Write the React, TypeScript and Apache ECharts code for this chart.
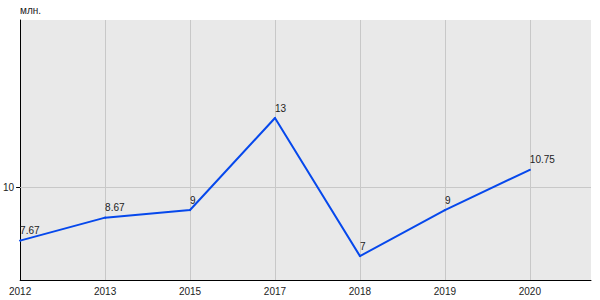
import React, { useEffect, useRef } from "react";
import * as echarts from "echarts";

const years = ["2012", "2013", "2015", "2017", "2018", "2019", "2020"];
const values = [7.67, 8.67, 9, 13, 7, 9, 10.75];
const yTicks = [10];
const unitLabel = "млн.";

const FONT = "Arial, 'Liberation Sans', sans-serif";

export default function App() {
  const ref = useRef<HTMLDivElement>(null);
  useEffect(() => {
    if (!ref.current) return;
    document.body.style.margin = "0";
    const chart = echarts.init(ref.current, null, { renderer: "svg" });
    const data = values.map((v, i) => [i, v]);
    chart.setOption({
      animation: false,
      grid: {
        left: 20,
        top: 20,
        right: 9,
        bottom: 20,
        show: true,
        backgroundColor: "#e9e9e9",
        borderWidth: 0,
      },
      xAxis: {
        type: "value",
        min: 0,
        max: 6.72,
        interval: 1,
        axisLine: { show: true, lineStyle: { color: "#000", width: 1 } },
        axisTick: { show: false },
        axisLabel: {
          color: "#222",
          fontFamily: FONT,
          fontSize: 10,
          margin: 6,
          showMaxLabel: false,
          formatter: (v: number) =>
            Number.isInteger(v) && years[v] !== undefined ? years[v] : "",
        },
        splitLine: {
          show: true,
          showMaxLine: false,
          lineStyle: { color: "#c8c8c8", width: 1 },
        },
      },
      yAxis: {
        type: "value",
        min: 5.96,
        max: 17.26,
        name: unitLabel,
        nameLocation: "end",
        nameGap: 5,
        nameTextStyle: {
          color: "#222",
          fontFamily: FONT,
          fontSize: 10,
          align: "left",
        },
        axisLine: { show: true, lineStyle: { color: "#000", width: 1 } },
        axisTick: {
          show: true,
          length: 4,
          customValues: yTicks,
          lineStyle: { color: "#000" },
        },
        axisLabel: {
          color: "#222",
          fontFamily: FONT,
          fontSize: 10,
          margin: 6,
          customValues: yTicks,
        },
        splitLine: { show: false },
      },
      series: [
        {
          type: "line",
          data,
          symbol: "circle",
          symbolSize: 2,
          itemStyle: { color: "#0648ec" },
          lineStyle: { color: "#0648ec", width: 2 },
          label: {
            show: true,
            position: "top",
            align: "left",
            distance: 4,
            color: "#222",
            fontFamily: FONT,
            fontSize: 10,
            formatter: (p: any) => String(p.value[1]),
          },
          markLine: {
            silent: true,
            symbol: "none",
            label: { show: false },
            lineStyle: { color: "#c8c8c8", width: 1, type: "solid" },
            data: yTicks.map((t) => ({ yAxis: t })),
            z: 1,
          },
        },
      ],
    });
    return () => chart.dispose();
  }, []);
  return (
    <div
      ref={ref}
      style={{ position: "absolute", left: 0, top: 0, width: 600, height: 300 }}
    />
  );
}
